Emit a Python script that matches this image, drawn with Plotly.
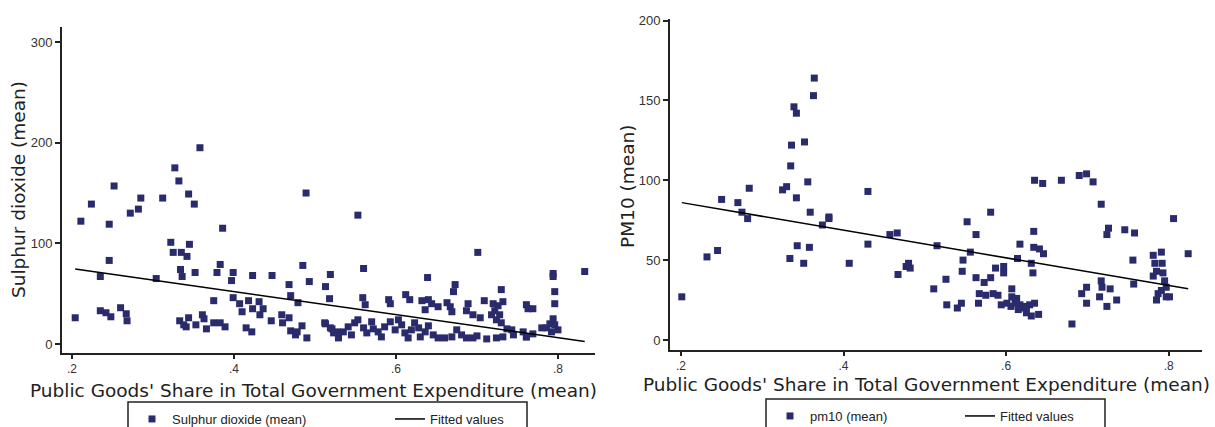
import plotly.graph_objects as go

# ---- Sulphur dioxide vs. public goods share ----
so2_x = [
    0.358, 0.327, 0.332, 0.252, 0.489, 0.224, 0.285, 0.312, 0.344, 0.351,
    0.282, 0.272, 0.211, 0.246, 0.386, 0.322, 0.345, 0.325, 0.335, 0.342,
    0.246, 0.383, 0.334, 0.352, 0.336, 0.379, 0.399, 0.397, 0.423, 0.447,
    0.485, 0.493, 0.468, 0.519, 0.513, 0.235, 0.304, 0.470, 0.479, 0.518,
    0.399, 0.407, 0.410, 0.375, 0.418, 0.431, 0.423, 0.432, 0.436, 0.204,
    0.235, 0.242, 0.248, 0.260, 0.267, 0.268, 0.333, 0.338, 0.344, 0.341,
    0.353, 0.361, 0.363, 0.366, 0.375, 0.383, 0.389, 0.415, 0.422, 0.446,
    0.459, 0.460, 0.468, 0.470, 0.478, 0.484, 0.490, 0.476, 0.513, 0.521,
    0.527, 0.529, 0.553, 0.701, 0.560, 0.639, 0.794, 0.794, 0.833, 0.673,
    0.730, 0.796, 0.671, 0.612, 0.617, 0.559, 0.562, 0.591, 0.593, 0.632,
    0.640, 0.644, 0.652, 0.636, 0.663, 0.667, 0.669, 0.689, 0.687, 0.695,
    0.709, 0.720, 0.726, 0.732, 0.722, 0.728, 0.718, 0.724, 0.730, 0.737,
    0.743, 0.761, 0.763, 0.769, 0.796, 0.704, 0.794, 0.790, 0.796, 0.800,
    0.786, 0.792, 0.780, 0.757, 0.761, 0.769, 0.512, 0.519, 0.523, 0.529,
    0.535, 0.541, 0.545, 0.549, 0.553, 0.560, 0.564, 0.570, 0.572, 0.578,
    0.582, 0.586, 0.593, 0.599, 0.603, 0.607, 0.611, 0.615, 0.619, 0.623,
    0.628, 0.630, 0.636, 0.640, 0.646, 0.652, 0.660, 0.669, 0.675, 0.681,
    0.687, 0.695, 0.700, 0.712, 0.724, 0.732, 0.745, 0.761,
]
so2_y = [
    195, 175, 162, 157, 150, 139, 145, 145, 149, 139,
    134, 130, 122, 119, 115, 101, 99, 91, 91, 87,
    83, 79, 74, 71, 67, 71, 71, 63, 68, 68,
    78, 62, 59, 69, 57, 67, 65, 48, 41, 45,
    46, 40, 32, 43, 43, 42, 35, 29, 35, 26,
    33, 31, 27, 36, 30, 23, 23, 19, 26, 17,
    19, 29, 25, 15, 21, 21, 17, 16, 12, 23,
    29, 21, 26, 13, 12, 18, 6, 9, 20, 15,
    12, 6, 128, 91, 75, 66, 70, 67, 72, 59,
    54, 52, 52, 49, 44, 46, 39, 44, 40, 43,
    44, 40, 37, 34, 41, 37, 32, 40, 33, 29,
    43, 40, 38, 42, 33, 29, 29, 24, 21, 15,
    14, 39, 35, 35, 40, 26, 25, 20, 19, 14,
    16, 12, 16, 12, 7, 10, 21, 16, 11, 7,
    12, 17, 9, 21, 24, 16, 11, 22, 15, 12,
    7, 17, 22, 14, 24, 19, 11, 6, 14, 21,
    16, 7, 12, 18, 9, 6, 6, 7, 14, 9,
    6, 6, 8, 5, 6, 7, 9, 7,
]
so2_fit_x = [0.204, 0.833]
so2_fit_y = [74.5, 2.5]

# ---- PM10 vs. public goods share ----
pm_x = [
    0.364, 0.363, 0.339, 0.342, 0.336, 0.352, 0.335, 0.325, 0.330, 0.356,
    0.342, 0.284, 0.250, 0.270, 0.430, 0.359, 0.382, 0.201, 0.232, 0.245,
    0.275, 0.282, 0.374, 0.382, 0.343, 0.358, 0.334, 0.351, 0.407, 0.430,
    0.457, 0.466, 0.467, 0.477, 0.480, 0.482, 0.515, 0.511, 0.526, 0.527,
    0.540, 0.545, 0.552, 0.563, 0.581, 0.556, 0.547, 0.546, 0.563, 0.573,
    0.567, 0.566, 0.575, 0.581, 0.587, 0.597, 0.597, 0.584, 0.590, 0.607,
    0.607, 0.613, 0.601, 0.606, 0.611, 0.617, 0.615, 0.621, 0.625, 0.629,
    0.635, 0.631, 0.640, 0.625, 0.594, 0.614, 0.617, 0.631, 0.633, 0.634,
    0.634, 0.641, 0.646, 0.635, 0.645, 0.668, 0.690, 0.699, 0.707, 0.717,
    0.726, 0.724, 0.746, 0.758, 0.806, 0.824, 0.756, 0.757, 0.781, 0.791,
    0.783, 0.792, 0.785, 0.781, 0.793, 0.795, 0.797, 0.787, 0.797, 0.801,
    0.785, 0.791, 0.681, 0.699, 0.693, 0.699, 0.717, 0.718, 0.728, 0.724,
    0.715, 0.736,
]
pm_y = [
    164, 153, 146, 142, 122, 124, 109, 94, 96, 99,
    89, 95, 88, 86, 93, 80, 77, 27, 52, 56,
    80, 76, 72, 76, 59, 58, 51, 48, 48, 60,
    66, 67, 41, 46, 48, 45, 59, 32, 38, 22,
    20, 23, 74, 66, 80, 55, 50, 43, 39, 36,
    29, 23, 28, 39, 45, 46, 42, 29, 28, 32,
    27, 26, 23, 21, 23, 22, 19, 20, 17, 22,
    23, 15, 16, 21, 22, 51, 60, 48, 42, 68,
    58, 57, 54, 100, 98, 100, 103, 104, 99, 85,
    70, 66, 69, 67, 76, 54, 50, 35, 53, 55,
    48, 48, 43, 40, 42, 37, 33, 29, 27, 27,
    25, 31, 10, 33, 29, 23, 37, 33, 32, 21,
    27, 25,
]
pm_fit_x = [0.201, 0.824]
pm_fit_y = [86, 32]

x_ticks = [0.2, 0.4, 0.6, 0.8]
x_tick_text = [".2", ".4", ".6", ".8"]
so2_ticks = [0, 100, 200, 300]
pm_ticks = [0, 50, 100, 150, 200]

W, H = 1215, 427
NAVY = "#2a2b6c"
FONT = "Liberation Sans, Arial, sans-serif"
TITLE_FONT = "DejaVu Sans, Liberation Sans, sans-serif"


def px(v):
    return v / W


def py(v):
    return 1 - v / H


fig = go.Figure()

fig.add_trace(go.Scatter(
    x=so2_x, y=so2_y, mode="markers", name="Sulphur dioxide (mean)",
    marker=dict(symbol="square", size=7, color=NAVY),
    xaxis="x", yaxis="y", legend="legend",
))
fig.add_trace(go.Scatter(
    x=so2_fit_x, y=so2_fit_y, mode="lines", name="Fitted values",
    line=dict(color="black", width=1.5),
    xaxis="x", yaxis="y", legend="legend",
))
fig.add_trace(go.Scatter(
    x=pm_x, y=pm_y, mode="markers", name="pm10 (mean)",
    marker=dict(symbol="square", size=7, color=NAVY),
    xaxis="x2", yaxis="y2", legend="legend2",
))
fig.add_trace(go.Scatter(
    x=pm_fit_x, y=pm_fit_y, mode="lines", name="Fitted values",
    line=dict(color="black", width=1.5),
    xaxis="x2", yaxis="y2", legend="legend2",
))

axis_common = dict(
    showline=True, linecolor="#222", linewidth=2,
    ticks="outside", tickwidth=1.5, tickcolor="#222",
    showgrid=False, zeroline=False,
)
y_common = dict(ticklen=5, tickfont=dict(family=FONT, size=13, color="#333"), **axis_common)
x_common = dict(ticklen=4, tickfont=dict(family=FONT, size=12, color="#333"), **axis_common)

fig.update_layout(
    width=W, height=H,
    margin=dict(l=0, r=0, t=0, b=0, autoexpand=False),
    paper_bgcolor="white", plot_bgcolor="white",
    font=dict(family=FONT, color="#222"),
    xaxis=dict(domain=[px(62), px(595)], range=[0.1877, 0.8457],
               tickvals=x_ticks, ticktext=x_tick_text, anchor="y", **x_common),
    yaxis=dict(domain=[py(353), py(27)], range=[-9, 315],
               tickvals=so2_ticks, anchor="x", **y_common),
    xaxis2=dict(domain=[px(670), px(1202)], range=[0.1865, 0.841],
                tickvals=x_ticks, ticktext=x_tick_text, anchor="y2", **x_common),
    yaxis2=dict(domain=[py(350), py(19)], range=[-6.3, 201],
                tickvals=pm_ticks, anchor="x2", **y_common),
    legend=dict(
        x=px(132), y=py(404), xanchor="left", yanchor="top",
        orientation="h", bgcolor="rgba(0,0,0,0)", borderwidth=0,
        font=dict(family=FONT, size=13, color="#222"),
        entrywidth=213, tracegroupgap=0,
    ),
    legend2=dict(
        x=px(770), y=py(401), xanchor="left", yanchor="top",
        orientation="h", bgcolor="rgba(0,0,0,0)", borderwidth=0,
        font=dict(family=FONT, size=13, color="#222"),
        entrywidth=145, tracegroupgap=0,
    ),
    showlegend=True,
)

# legend frames
fig.add_shape(type="rect", xref="paper", yref="paper",
              x0=px(128), x1=px(527), y0=py(440), y1=py(402),
              line=dict(color="#222", width=1.5))
fig.add_shape(type="rect", xref="paper", yref="paper",
              x0=px(766), x1=px(1105), y0=py(440), y1=py(399),
              line=dict(color="#222", width=1.5))

title_font = dict(family=TITLE_FONT, size=18.5, color="#222")
xt = "Public Goods' Share in Total Government Expenditure (mean)"
fig.add_annotation(text=xt, xref="paper", yref="paper", x=px(313), y=py(390),
                   xanchor="center", yanchor="middle", showarrow=False, font=title_font)
fig.add_annotation(text=xt, xref="paper", yref="paper", x=px(926), y=py(384),
                   xanchor="center", yanchor="middle", showarrow=False, font=title_font)
fig.add_annotation(text="Sulphur dioxide (mean)", xref="paper", yref="paper",
                   x=px(18), y=py(190), xanchor="center", yanchor="middle",
                   textangle=-90, showarrow=False, font=title_font)
fig.add_annotation(text="PM10 (mean)", xref="paper", yref="paper",
                   x=px(627), y=py(187), xanchor="center", yanchor="middle",
                   textangle=-90, showarrow=False, font=title_font)

fig.write_html("out.html")
